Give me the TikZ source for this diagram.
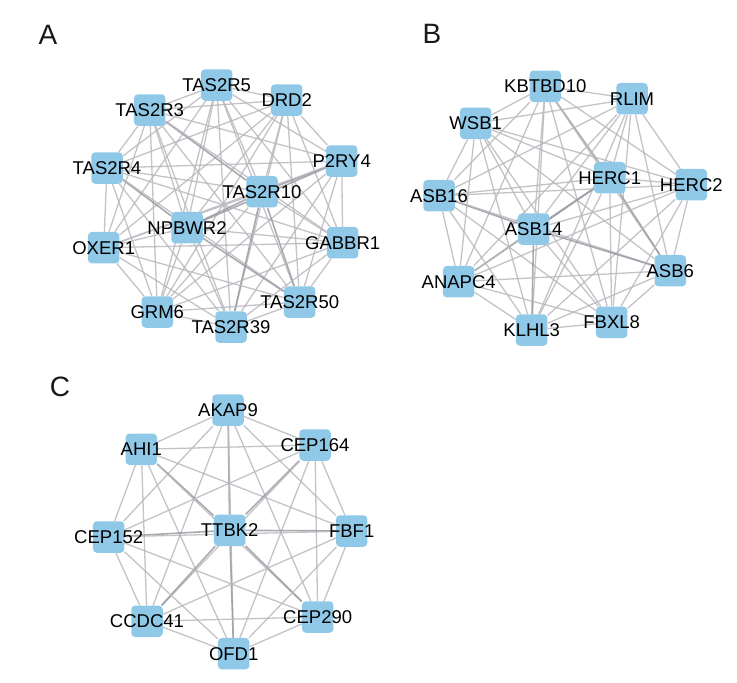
\documentclass[tikz,border=0pt]{standalone}
\usepackage{fontspec}
\setmainfont{Liberation Sans}
\usepackage{tikz}
\usetikzlibrary{backgrounds}
\definecolor{geneblue}{RGB}{143,201,231}
\definecolor{edgegray}{RGB}{184,184,190}
\definecolor{edgedark}{RGB}{155,155,163}
\tikzset{
  gene/.style={rectangle, rounded corners=4pt, fill=geneblue, minimum size=31.5pt, inner sep=0pt,
    label={[font=\fontsize{18.5}{20}\selectfont, text=black]center:#1}},
  link/.style={draw=edgegray, line width=1.3pt, opacity=0.85},
  heavy/.style={draw=edgedark, line width=1.6pt, opacity=0.85},
  panel/.style={font=\fontsize{28}{30}\selectfont, text=black!90}
}
\begin{document}
\begin{tikzpicture}[x=1pt,y=-1pt]
			\useasboundingbox (0,0) rectangle (737,683);
			\node[panel] (labA) at (48,35) {A};
			\node[panel] (labB) at (432,34) {B};
			\node[panel] (labC) at (60,387) {C};
			% panel A
			\node[gene=TAS2R5] (tas2r5) at (216.7,85) {};
			\node[gene=DRD2] (drd2) at (286.7,100) {};
			\node[gene=TAS2R3] (tas2r3) at (149.7,110) {};
			\node[gene=P2RY4] (p2ry4) at (341.7,161) {};
			\node[gene=TAS2R4] (tas2r4) at (107,168) {};
			\node[gene=TAS2R10] (tas2r10) at (262,191.7) {};
			\node[gene=NPBWR2] (npbwr2) at (187,227.7) {};
			\node[gene=OXER1] (oxer1) at (103.7,247.7) {};
			\node[gene=GABBR1] (gabbr1) at (342.7,242.7) {};
			\node[gene=TAS2R50] (tas2r50) at (299.7,302) {};
			\node[gene=GRM6] (grm6) at (157.3,312) {};
			\node[gene=TAS2R39] (tas2r39) at (231,327) {};
			% panel B
			\node[gene=KBTBD10] (kbtbd10) at (545.3,86.3) {};
			\node[gene=RLIM] (rlim) at (632,98.7) {};
			\node[gene=WSB1] (wsb1) at (475.7,123.3) {};
			\node[gene=HERC1] (herc1) at (609.7,177.7) {};
			\node[gene=HERC2] (herc2) at (691.3,184.7) {};
			\node[gene=ASB16] (asb16) at (439,195.7) {};
			\node[gene=ASB14] (asb14) at (533.7,229) {};
			\node[gene=ASB6] (asb6) at (670.3,270.7) {};
			\node[gene=ANAPC4] (anapc4) at (458.7,281.7) {};
			\node[gene=FBXL8] (fbxl8) at (611.7,322.3) {};
			\node[gene=KLHL3] (klhl3) at (531.7,330) {};
			% panel C
			\node[gene=AKAP9] (akap9) at (228,410) {};
			\node[gene=AHI1] (ahi1) at (141.3,449.3) {};
			\node[gene=CEP164] (cep164) at (315,445) {};
			\node[gene=TTBK2] (ttbk2) at (229.7,530.3) {};
			\node[gene=FBF1] (fbf1) at (351.7,531) {};
			\node[gene=CEP152] (cep152) at (108.7,537) {};
			\node[gene=CCDC41] (ccdc41) at (147,621.3) {};
			\node[gene=CEP290] (cep290) at (317.7,617) {};
			\node[gene=OFD1] (ofd1) at (233.7,653.7) {};
			\begin{pgfonlayer}{background}
			% edges A
			\draw[link] (tas2r5)--(drd2);
			\draw[link] (tas2r5)--(tas2r3);
			\draw[link] (tas2r5)--(p2ry4);
			\draw[link] (tas2r5)--(tas2r4);
			\draw[link] (tas2r5)--(tas2r10);
			\draw[link] (tas2r5)--(npbwr2);
			\draw[link] (tas2r5)--(oxer1);
			\draw[link] (tas2r5)--(gabbr1);
			\draw[link] (tas2r5)--(tas2r50);
			\draw[link] (tas2r5)--(grm6);
			\draw[link] (tas2r5)--(tas2r39);
			\draw[link] (drd2)--(tas2r3);
			\draw[link] (drd2)--(p2ry4);
			\draw[link] (drd2)--(tas2r4);
			\draw[link] (drd2)--(tas2r10);
			\draw[link] (drd2)--(npbwr2);
			\draw[link] (drd2)--(oxer1);
			\draw[link] (drd2)--(gabbr1);
			\draw[link] (drd2)--(tas2r50);
			\draw[link] (drd2)--(grm6);
			\draw[link] (drd2)--(tas2r39);
			\draw[link] (tas2r3)--(p2ry4);
			\draw[link] (tas2r3)--(tas2r4);
			\draw[heavy] (tas2r3)--(tas2r10);
			\draw[link] (tas2r3)--(npbwr2);
			\draw[link] (tas2r3)--(oxer1);
			\draw[link] (tas2r3)--(gabbr1);
			\draw[link] (tas2r3)--(tas2r50);
			\draw[link] (tas2r3)--(grm6);
			\draw[link] (tas2r3)--(tas2r39);
			\draw[link] (p2ry4)--(tas2r4);
			\draw[heavy] (p2ry4)--(tas2r10);
			\draw[heavy] (p2ry4)--(npbwr2);
			\draw[link] (p2ry4)--(oxer1);
			\draw[link] (p2ry4)--(gabbr1);
			\draw[link] (p2ry4)--(tas2r50);
			\draw[link] (p2ry4)--(grm6);
			\draw[link] (p2ry4)--(tas2r39);
			\draw[link] (tas2r4)--(tas2r10);
			\draw[heavy] (tas2r4)--(npbwr2);
			\draw[link] (tas2r4)--(oxer1);
			\draw[link] (tas2r4)--(gabbr1);
			\draw[link] (tas2r4)--(tas2r50);
			\draw[link] (tas2r4)--(grm6);
			\draw[link] (tas2r4)--(tas2r39);
			\draw[heavy] (tas2r10)--(npbwr2);
			\draw[link] (tas2r10)--(oxer1);
			\draw[link] (tas2r10)--(gabbr1);
			\draw[heavy] (tas2r10)--(tas2r50);
			\draw[link] (tas2r10)--(grm6);
			\draw[heavy] (tas2r10)--(tas2r39);
			\draw[link] (npbwr2)--(oxer1);
			\draw[link] (npbwr2)--(gabbr1);
			\draw[heavy] (npbwr2)--(tas2r50);
			\draw[link] (npbwr2)--(grm6);
			\draw[link] (npbwr2)--(tas2r39);
			\draw[link] (oxer1)--(gabbr1);
			\draw[link] (oxer1)--(tas2r50);
			\draw[link] (oxer1)--(grm6);
			\draw[link] (oxer1)--(tas2r39);
			\draw[link] (gabbr1)--(tas2r50);
			\draw[link] (gabbr1)--(grm6);
			\draw[link] (gabbr1)--(tas2r39);
			\draw[link] (tas2r50)--(grm6);
			\draw[link] (tas2r50)--(tas2r39);
			\draw[link] (grm6)--(tas2r39);
			% edges B
			\draw[link] (kbtbd10)--(rlim);
			\draw[link] (kbtbd10)--(wsb1);
			\draw[heavy] (kbtbd10)--(herc1);
			\draw[link] (kbtbd10)--(herc2);
			\draw[link] (kbtbd10)--(asb16);
			\draw[link] (kbtbd10)--(asb14);
			\draw[link] (kbtbd10)--(asb6);
			\draw[link] (kbtbd10)--(anapc4);
			\draw[link] (kbtbd10)--(fbxl8);
			\draw[link] (kbtbd10)--(klhl3);
			\draw[link] (rlim)--(wsb1);
			\draw[link] (rlim)--(herc1);
			\draw[link] (rlim)--(herc2);
			\draw[link] (rlim)--(asb16);
			\draw[link] (rlim)--(asb14);
			\draw[link] (rlim)--(asb6);
			\draw[link] (rlim)--(anapc4);
			\draw[link] (rlim)--(fbxl8);
			\draw[link] (rlim)--(klhl3);
			\draw[link] (wsb1)--(herc1);
			\draw[link] (wsb1)--(herc2);
			\draw[link] (wsb1)--(asb16);
			\draw[link] (wsb1)--(asb14);
			\draw[link] (wsb1)--(asb6);
			\draw[link] (wsb1)--(anapc4);
			\draw[link] (wsb1)--(fbxl8);
			\draw[link] (wsb1)--(klhl3);
			\draw[link] (herc1)--(herc2);
			\draw[link] (herc1)--(asb16);
			\draw[heavy] (herc1)--(asb14);
			\draw[heavy] (herc1)--(asb6);
			\draw[heavy] (herc1)--(anapc4);
			\draw[link] (herc1)--(fbxl8);
			\draw[link] (herc1)--(klhl3);
			\draw[link] (herc2)--(asb16);
			\draw[link] (herc2)--(asb14);
			\draw[link] (herc2)--(asb6);
			\draw[link] (herc2)--(anapc4);
			\draw[link] (herc2)--(fbxl8);
			\draw[link] (herc2)--(klhl3);
			\draw[heavy] (asb16)--(asb14);
			\draw[link] (asb16)--(asb6);
			\draw[link] (asb16)--(anapc4);
			\draw[link] (asb16)--(fbxl8);
			\draw[link] (asb16)--(klhl3);
			\draw[heavy] (asb14)--(asb6);
			\draw[link] (asb14)--(anapc4);
			\draw[link] (asb14)--(fbxl8);
			\draw[heavy] (asb14)--(klhl3);
			\draw[link] (asb6)--(anapc4);
			\draw[link] (asb6)--(fbxl8);
			\draw[link] (asb6)--(klhl3);
			\draw[link] (anapc4)--(fbxl8);
			\draw[link] (anapc4)--(klhl3);
			\draw[link] (fbxl8)--(klhl3);
			% edges C
			\draw[link] (akap9)--(ahi1);
			\draw[link] (akap9)--(cep164);
			\draw[heavy] (akap9)--(ttbk2);
			\draw[link] (akap9)--(fbf1);
			\draw[link] (akap9)--(cep152);
			\draw[link] (akap9)--(ccdc41);
			\draw[link] (akap9)--(cep290);
			\draw[link] (akap9)--(ofd1);
			\draw[link] (ahi1)--(cep164);
			\draw[heavy] (ahi1)--(ttbk2);
			\draw[link] (ahi1)--(fbf1);
			\draw[link] (ahi1)--(cep152);
			\draw[link] (ahi1)--(ccdc41);
			\draw[link] (ahi1)--(cep290);
			\draw[link] (ahi1)--(ofd1);
			\draw[heavy] (cep164)--(ttbk2);
			\draw[link] (cep164)--(fbf1);
			\draw[link] (cep164)--(cep152);
			\draw[link] (cep164)--(ccdc41);
			\draw[link] (cep164)--(cep290);
			\draw[link] (cep164)--(ofd1);
			\draw[heavy] (ttbk2)--(fbf1);
			\draw[heavy] (ttbk2)--(cep152);
			\draw[heavy] (ttbk2)--(ccdc41);
			\draw[heavy] (ttbk2)--(cep290);
			\draw[heavy] (ttbk2)--(ofd1);
			\draw[link] (fbf1)--(cep152);
			\draw[link] (fbf1)--(ccdc41);
			\draw[link] (fbf1)--(cep290);
			\draw[link] (fbf1)--(ofd1);
			\draw[link] (cep152)--(ccdc41);
			\draw[link] (cep152)--(cep290);
			\draw[link] (cep152)--(ofd1);
			\draw[link] (ccdc41)--(cep290);
			\draw[link] (ccdc41)--(ofd1);
			\draw[link] (cep290)--(ofd1);
			\end{pgfonlayer}
		\end{tikzpicture}
\end{document}
